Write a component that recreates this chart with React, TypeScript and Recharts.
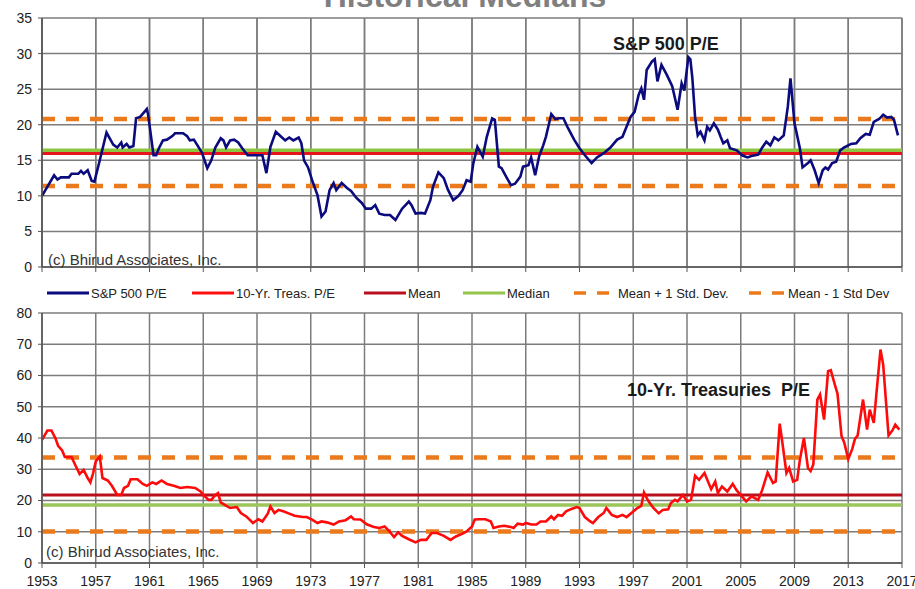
import { LineChart, Line, XAxis, YAxis, CartesianGrid, ReferenceLine } from 'recharts';

const FONT = "'Liberation Sans', Arial, sans-serif";

// S&P 500 P/E
const spDates = [
    1953.0, 1953.9, 1954.15, 1954.4, 1955.0, 1955.2, 1955.7, 1955.9, 1956.1, 1956.4,
    1956.7, 1956.9, 1957.3, 1957.8, 1958.3, 1958.6, 1958.9, 1959.0, 1959.3, 1959.5,
    1959.8, 1960.0, 1960.3, 1960.8, 1960.9, 1961.3, 1961.5, 1961.7, 1962.0, 1962.3,
    1962.7, 1962.9, 1963.5, 1963.8, 1964.0, 1964.3, 1964.5, 1964.9, 1965.3, 1965.6,
    1965.9, 1966.3, 1966.5, 1966.7, 1967.0, 1967.3, 1967.6, 1967.9, 1968.3, 1968.9,
    1969.4, 1969.7, 1970.0, 1970.4, 1970.8, 1971.1, 1971.4, 1971.7, 1972.1, 1972.3,
    1972.5, 1972.8, 1973.1, 1973.5, 1973.8, 1974.1, 1974.4, 1974.7, 1974.9, 1975.3,
    1975.7, 1976.0, 1976.4, 1976.8, 1977.1, 1977.5, 1977.8, 1978.1, 1978.5, 1978.9,
    1979.3, 1979.8, 1980.3, 1980.5, 1980.8, 1981.2, 1981.5, 1981.9, 1982.1, 1982.5,
    1982.9, 1983.2, 1983.6, 1984.0, 1984.3, 1984.6, 1984.9, 1985.1, 1985.4, 1985.8,
    1986.1, 1986.5, 1986.7, 1987.0, 1987.2, 1987.6, 1987.9, 1988.2, 1988.6, 1988.8,
    1989.2, 1989.4, 1989.7, 1990.0, 1990.3, 1990.5, 1990.9, 1991.2, 1991.5, 1991.8,
    1992.1, 1992.6, 1993.0, 1993.4, 1993.9, 1994.3, 1994.8, 1995.3, 1995.8, 1996.2,
    1996.5, 1996.8, 1997.1, 1997.4, 1997.6, 1997.8, 1998.0, 1998.4, 1998.6, 1998.8,
    1999.1, 1999.5, 1999.9, 2000.3, 2000.6, 2000.8, 2001.1, 2001.25, 2001.4, 2001.6,
    2001.8, 2002.0, 2002.3, 2002.5, 2002.7, 2003.0, 2003.3, 2003.5, 2003.7, 2004.0,
    2004.2, 2004.7, 2005.1, 2005.5, 2005.8, 2006.3, 2006.6, 2006.9, 2007.2, 2007.5,
    2007.8, 2008.2, 2008.5, 2008.7, 2009.0, 2009.4, 2009.6, 2010.0, 2010.2, 2010.5,
    2010.8, 2011.1, 2011.3, 2011.5, 2011.8, 2012.1, 2012.4, 2012.7, 2013.2, 2013.6,
    2013.9, 2014.3, 2014.6, 2014.9, 2015.3, 2015.6, 2015.9, 2016.2, 2016.4, 2016.7,
];
const spPE = [
    10.0, 12.9, 12.3, 12.6, 12.6, 13.1, 13.1, 13.5, 13.1, 13.6,
    12.1, 12.0, 15.0, 18.9, 17.2, 16.8, 17.5, 16.8, 17.3, 16.8,
    17.0, 20.9, 21.1, 22.2, 21.4, 15.7, 15.7, 16.7, 17.8, 17.9,
    18.4, 18.8, 18.8, 18.4, 17.8, 17.9, 17.3, 16.1, 13.9, 15.0,
    16.8, 18.1, 17.8, 16.8, 17.8, 17.9, 17.5, 16.7, 15.7, 15.7,
    15.7, 13.2, 16.9, 19.0, 18.3, 17.8, 18.2, 17.8, 18.2, 17.4,
    15.0, 14.0, 12.2, 10.1, 7.1, 7.8, 10.8, 11.8, 10.8, 11.8,
    11.1, 10.7, 9.7, 9.0, 8.2, 8.2, 8.7, 7.5, 7.3, 7.3,
    6.6, 8.2, 9.2, 8.7, 7.5, 7.6, 7.5, 9.4, 11.3, 13.3,
    12.5, 10.9, 9.4, 10.0, 10.8, 12.2, 12.0, 14.6, 16.9, 15.5,
    18.3, 20.9, 20.7, 14.1, 13.9, 12.5, 11.5, 11.7, 12.7, 14.1,
    14.3, 15.4, 12.9, 15.6, 17.1, 18.3, 21.5, 20.8, 20.9, 20.9,
    19.7, 17.9, 16.7, 15.7, 14.6, 15.4, 16.0, 16.8, 17.9, 18.3,
    19.7, 21.1, 21.8, 24.2, 25.1, 23.5, 27.7, 28.9, 29.2, 26.1,
    28.4, 27.0, 25.4, 22.1, 25.8, 24.8, 29.5, 29.2, 26.5, 21.1,
    18.5, 19.0, 17.8, 19.7, 19.2, 20.2, 19.3, 18.3, 17.4, 17.8,
    16.7, 16.4, 15.7, 15.4, 15.6, 15.8, 16.8, 17.6, 17.1, 18.2,
    17.8, 18.5, 22.5, 26.5, 20.2, 16.7, 14.0, 14.6, 15.0, 13.6,
    11.8, 13.6, 14.0, 13.7, 14.6, 14.8, 16.4, 16.8, 17.3, 17.4,
    18.1, 18.7, 18.6, 20.4, 20.8, 21.4, 21.0, 21.1, 20.7, 18.5,
];

// 10-Yr. Treasuries P/E
const trDates = [
    1953.0, 1953.4, 1953.7, 1954.0, 1954.2, 1954.5, 1954.7, 1955.2, 1955.5, 1955.8,
    1956.1, 1956.4, 1956.6, 1956.8, 1957.0, 1957.3, 1957.5, 1957.9, 1958.2, 1958.6,
    1958.9, 1959.1, 1959.4, 1959.6, 1960.1, 1960.5, 1960.8, 1961.2, 1961.5, 1961.9,
    1962.3, 1962.8, 1963.3, 1963.8, 1964.4, 1964.8, 1965.0, 1965.4, 1965.6, 1965.9,
    1966.1, 1966.3, 1966.6, 1967.0, 1967.5, 1967.8, 1968.2, 1968.7, 1969.1, 1969.4,
    1969.8, 1970.0, 1970.3, 1970.6, 1971.0, 1971.4, 1971.8, 1972.4, 1972.7, 1973.1,
    1973.5, 1973.8, 1974.2, 1974.7, 1975.1, 1975.6, 1976.0, 1976.2, 1976.7, 1977.2,
    1977.7, 1978.1, 1978.5, 1978.8, 1979.2, 1979.5, 1979.8, 1980.3, 1980.8, 1981.2,
    1981.6, 1982.0, 1982.4, 1982.9, 1983.4, 1983.8, 1984.3, 1984.6, 1985.0, 1985.2,
    1985.6, 1986.0, 1986.4, 1986.6, 1987.0, 1987.4, 1987.9, 1988.1, 1988.4, 1988.8,
    1989.0, 1989.4, 1989.8, 1990.1, 1990.5, 1990.9, 1991.1, 1991.4, 1991.7, 1992.0,
    1992.4, 1992.8, 1993.0, 1993.4, 1993.8, 1994.0, 1994.4, 1994.8, 1995.0, 1995.4,
    1995.8, 1996.2, 1996.5, 1997.0, 1997.3, 1997.6, 1997.8, 1998.1, 1998.5, 1998.9,
    1999.2, 1999.6, 1999.8, 2000.1, 2000.3, 2000.7, 2001.0, 2001.3, 2001.6, 2001.9,
    2002.3, 2002.8, 2003.1, 2003.3, 2003.6, 2004.0, 2004.4, 2004.7, 2005.0, 2005.4,
    2005.8, 2006.3, 2006.6, 2007.0, 2007.4, 2007.6, 2007.9, 2008.1, 2008.4, 2008.6,
    2008.9, 2009.2, 2009.4, 2009.7, 2010.0, 2010.2, 2010.4, 2010.7, 2010.9, 2011.2,
    2011.5, 2011.7, 2012.0, 2012.2, 2012.5, 2012.7, 2013.0, 2013.3, 2013.5, 2013.7,
    2014.1, 2014.4, 2014.6, 2014.9, 2015.1, 2015.4, 2015.6, 2016.0, 2016.3, 2016.5,
    2016.8,
];
const trPE = [
    39.4, 42.4, 42.4, 39.9, 37.5, 36.0, 33.9, 33.9, 31.1, 28.5,
    29.8, 27.2, 25.8, 28.7, 32.5, 34.1, 27.2, 26.4, 24.7, 21.8,
    21.8, 24.0, 24.7, 26.8, 26.8, 25.3, 24.7, 25.8, 25.3, 26.4,
    25.3, 24.7, 24.0, 24.3, 24.0, 22.9, 21.8, 20.2, 20.2, 21.8,
    22.4, 19.4, 18.6, 17.6, 17.9, 16.0, 14.9, 12.8, 14.0, 13.3,
    15.8, 18.1, 16.0, 17.0, 16.5, 15.8, 15.1, 14.7, 14.7, 13.9,
    12.8, 13.3, 13.0, 12.3, 13.3, 13.7, 14.9, 14.0, 13.9, 12.3,
    11.5, 11.2, 11.7, 10.4, 8.3, 9.8, 8.7, 7.6, 6.6, 7.4,
    7.4, 9.6, 9.6, 8.7, 7.4, 8.5, 9.4, 10.1, 11.7, 13.9,
    14.0, 14.0, 13.3, 11.2, 11.7, 11.9, 11.5, 11.2, 12.6, 12.3,
    12.8, 12.3, 12.3, 13.3, 13.3, 14.9, 14.0, 15.4, 15.1, 16.5,
    17.3, 17.9, 17.6, 14.7, 13.3, 12.8, 14.7, 16.0, 17.6, 15.4,
    14.7, 15.4, 14.7, 16.5, 17.6, 18.3, 22.6, 20.0, 17.6, 15.9,
    17.0, 17.2, 19.2, 20.2, 19.7, 21.8, 19.7, 20.2, 27.9, 26.6,
    28.8, 23.6, 26.1, 22.4, 24.5, 22.9, 25.3, 23.2, 21.8, 19.7,
    21.3, 20.2, 23.4, 29.0, 25.6, 26.1, 44.6, 38.4, 28.8, 30.4,
    26.1, 26.6, 33.0, 40.0, 30.4, 29.4, 31.5, 52.3, 53.9, 45.9,
    61.4, 61.7, 57.1, 54.2, 40.6, 38.6, 33.3, 36.5, 39.7, 40.8,
    52.3, 42.7, 49.1, 44.8, 54.4, 68.3, 63.5, 40.8, 42.5, 44.3,
    42.7,
];

// summary lines: mean, median, mean +/- 1 std dev
const spStats = { mean: 15.95, median: 16.4, upper: 20.8, lower: 11.4 };
const trStats = { mean: 21.8, median: 18.6, upper: 33.8, lower: 10.1 };

const yearLabels = [1953, 1957, 1961, 1965, 1969, 1973, 1977, 1981, 1985, 1989, 1993, 1997, 2001, 2005, 2009, 2013, 2017];
const spTicks = [0, 5, 10, 15, 20, 25, 30, 35];
const trTicks = [0, 10, 20, 30, 40, 50, 60, 70, 80];

const legendItems = [
    { name: 'S&P 500 P/E', color: '#0b0b7e', dashed: false, left: 47, text: 91 },
    { name: '10-Yr. Treas. P/E', color: '#ff1010', dashed: false, left: 192, text: 236 },
    { name: 'Mean', color: '#b8101c', dashed: false, left: 364, text: 408 },
    { name: 'Median', color: '#93c54b', dashed: false, left: 463, text: 507 },
    { name: 'Mean + 1 Std. Dev.', color: '#ea7a1c', dashed: true, left: 574, text: 618 },
    { name: 'Mean - 1 Std Dev', color: '#ea7a1c', dashed: true, left: 749, text: 788 },
];

const spData = spDates.map((year, i) => ({ year, pe: spPE[i] }));
const trData = trDates.map((year, i) => ({ year, pe: trPE[i] }));

const ORANGE = '#ea7a1c';
const GRID = '#7c7c7c';

function Panel({ data, ticks, max, stats, lineColor, meanColor, medianColor, showLabels, height, bottom, top }) {
    return (
        <LineChart
            width={915}
            height={height}
            data={data}
            margin={{ top, right: 13, bottom, left: 6 }}
        >
            <CartesianGrid stroke={GRID} strokeWidth={1.5} />
            {/* upper panel: 4-year grid drawn as two-point series through the x/y scales */}
            {!showLabels &&
                yearLabels.map((y) => (
                    <Line
                        key={'g' + y}
                        data={[{ year: y, g: 0 }, { year: y, g: max }]}
                        dataKey="g"
                        stroke={GRID}
                        strokeWidth={1.5}
                        dot={false}
                        activeDot={false}
                        legendType="none"
                        isAnimationActive={false}
                    />
                ))}
            <XAxis
                dataKey="year"
                type="number"
                domain={[1953, 2017]}
                ticks={yearLabels}
                interval={0}
                allowDuplicatedCategory={false}
                height={20}
                tickSize={5}
                tickMargin={8}
                axisLine={{ stroke: '#555', strokeWidth: 1.5 }}
                tickLine={{ stroke: '#555' }}
                tick={{ fill: '#222', fontSize: 14, fontFamily: FONT }}
                tickFormatter={(v) => (showLabels ? String(v) : '')}
            />
            <YAxis
                type="number"
                domain={[0, max]}
                ticks={ticks}
                width={36}
                tickSize={4}
                tickMargin={6}
                axisLine={{ stroke: '#555', strokeWidth: 1.5 }}
                tickLine={{ stroke: '#555' }}
                tick={{ fill: '#222', fontSize: 14, fontFamily: FONT }}
            />
            <ReferenceLine y={stats.upper} stroke={ORANGE} strokeWidth={4.5} strokeDasharray="13 11" />
            <ReferenceLine y={stats.lower} stroke={ORANGE} strokeWidth={4.5} strokeDasharray="13 11" />
            <ReferenceLine y={stats.median} stroke={medianColor} strokeWidth={3.5} />
            <ReferenceLine y={stats.mean} stroke={meanColor} strokeWidth={3} />
            <Line
                dataKey="pe"
                type="linear"
                stroke={lineColor}
                strokeWidth={2.6}
                dot={false}
                isAnimationActive={false}
            />
        </LineChart>
    );
}

const textStyle = { position: 'absolute', fontFamily: FONT, color: '#1a1a1a', whiteSpace: 'pre', lineHeight: 1 } as const;

export default function App() {
    return (
        <div style={{ position: 'fixed', left: 0, top: 0, width: 915, height: 589, overflow: 'hidden', background: '#fff' }}>
            <div style={{ ...textStyle, top: -20, left: 0, width: 930, textAlign: 'center', fontSize: 32, fontWeight: 700, color: '#7f7f7f' }}>
                Historical Medians
            </div>

            <div style={{ position: 'absolute', left: 0, top: 0 }}>
                <Panel
                    data={spData}
                    ticks={spTicks}
                    max={35}
                    stats={spStats}
                    lineColor="#0b0b7e"
                    meanColor="#e8141c"
                    medianColor="#8cc63f"
                    showLabels={false}
                    height={287}
                    top={18}
                    bottom={0}
                />
            </div>
            <div style={{ ...textStyle, top: 35, left: 613, fontSize: 18, fontWeight: 700 }}>S&amp;P 500 P/E</div>
            <div style={{ ...textStyle, top: 252, left: 48, fontSize: 15, color: '#333' }}>(c) Bhirud Associates, Inc.</div>

            {legendItems.map((it) => (
                <div key={it.name}>
                    <svg style={{ position: 'absolute', left: it.left, top: 287 }} width={42} height={12}>
                        {it.dashed ? (
                            <line x1={0} y1={6} x2={36} y2={6} stroke={it.color} strokeWidth={3.5} strokeDasharray="12 11" />
                        ) : (
                            <line x1={0} y1={6} x2={42} y2={6} stroke={it.color} strokeWidth={3} />
                        )}
                    </svg>
                    <div style={{ ...textStyle, top: 287, left: it.text, fontSize: 13, color: '#222' }}>{it.name}</div>
                </div>
            ))}

            <div style={{ position: 'absolute', left: 0, top: 300 }}>
                <Panel
                    data={trData}
                    ticks={trTicks}
                    max={80}
                    stats={trStats}
                    lineColor="#ff0a0a"
                    meanColor="#b8101c"
                    medianColor="#9cc65a"
                    showLabels={true}
                    height={289}
                    top={13}
                    bottom={6}
                />
            </div>
            <div style={{ ...textStyle, top: 381, left: 627, fontSize: 18, fontWeight: 700 }}>10-Yr. Treasuries  P/E</div>
            <div style={{ ...textStyle, top: 544, left: 46, fontSize: 15, color: '#333' }}>(c) Bhirud Associates, Inc.</div>
        </div>
    );
}
